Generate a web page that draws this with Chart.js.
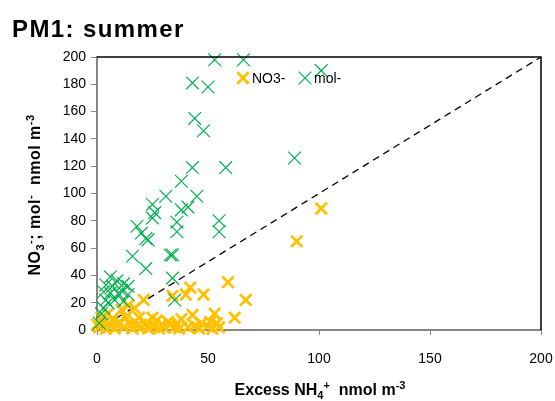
<!DOCTYPE html>
<html>
<head>
<meta charset="utf-8">
<script src="https://cdn.jsdelivr.net/npm/chart.js@4.4.1/dist/chart.umd.min.js"></script>
<style>
  html, body { margin: 0; padding: 0; background: #fff; }
  #wrap { position: relative; width: 555px; height: 401px; overflow: hidden; font-family: 'Liberation Sans', Arial, sans-serif; }
  #c { position: absolute; left: 0; top: 0; }
  .ttl { position: absolute; left: 12px; top: 15px; font-size: 24px; letter-spacing: 1.4px; font-weight: bold; color: #000; white-space: nowrap; }
  .xt { position: absolute; left: 0; width: 640px; top: 381px; text-align: center; font-size: 16px; font-weight: bold; color: #000; white-space: nowrap; }
  .yt { position: absolute; left: 35px; top: 195px; width: 260px; margin-left: -130px; margin-top: -11px; text-align: center;
        transform: rotate(-90deg); font-size: 16px; letter-spacing: 0.5px; font-weight: bold; color: #000; white-space: nowrap; line-height: 22px; }
  sub, sup { font-size: 11px; line-height: 0; }
</style>
</head>
<body>
<div id="wrap">
  <canvas id="c" width="555" height="401"></canvas>
  <div class="ttl">PM1: summer</div>
  <div class="yt">NO<sub>3</sub><sup>-</sup>; mol<sup>-</sup>&nbsp; nmol m<sup>-3</sup></div>
  <div class="xt">Excess NH<sub>4</sub><sup>+</sup>&nbsp; nmol m<sup>-3</sup></div>
</div>
<script>
(function () {
  'use strict';

  // NO3- : [excess NH4+, NO3-]
  const no3 = [
    [101, 89], [90, 65], [59, 35], [67, 22], [62, 9], [42, 31], [48, 26], [40, 26], [34, 25],
    [43, 11], [53, 12], [51, 6], [55, 2], [47, 5], [35, 2], [32, 6], [25, 9], [21, 22], [14, 18], [11, 15],
    [1, 2], [3, 5], [4, 1], [6, 3], [7, 8], [8, 1], [9, 4], [10, 6], [12, 2], [13, 9], [15, 4], [16, 1],
    [17, 6], [18, 3], [19, 9], [20, 2], [22, 5], [23, 1], [24, 4], [26, 3], [27, 7], [28, 1], [29, 4],
    [30, 2], [33, 4], [36, 5], [37, 1], [38, 8], [41, 2], [44, 3], [46, 1], [50, 3], [52, 1], [54, 5],
    [2, 9], [5, 12], [0, 4], [17, 16]
  ];
  // mol- : [excess NH4+, mol-]
  const mol = [
    [66, 198], [53, 198], [101, 190], [43, 181], [50, 178], [44, 155], [48, 146], [89, 126], [58, 119],
    [43, 119], [38, 109], [31, 98], [45, 98], [41, 90], [38, 88], [36, 79], [36, 72], [55, 80], [55, 72],
    [33, 55], [34, 55], [25, 92], [26, 86], [25, 82], [18, 76], [20, 71], [22, 67], [23, 66], [16, 54],
    [22, 45], [34, 38], [35, 22],
    [6, 39], [9, 36], [12, 34], [4, 33], [7, 32], [11, 29], [14, 32], [3, 28], [6, 27], [10, 26],
    [4, 22], [5, 20], [3, 16], [12, 21], [1, 5], [2, 12], [8, 22], [14, 26]
  ];
  const oneToOne = [[0, 0], [200, 200]];

  const xTicks = [0, 50, 100, 150, 200];
  const yTicks = [0, 20, 40, 60, 80, 100, 120, 140, 160, 180, 200];

  const ORANGE = '#FFC000';
  const GREEN = '#00B050';
  const AXIS = '#868686';
  const FONT = "'Liberation Sans', Arial, sans-serif";

  const toXY = arr => arr.map(p => ({ x: p[0], y: p[1] }));

  const frame = {
    id: 'frame',
    afterDatasetsDraw(chart) {
      const { ctx, chartArea: a } = chart;
      ctx.save();
      ctx.strokeStyle = '#000';
      ctx.lineWidth = 1.5;
      ctx.beginPath();
      ctx.moveTo(a.left, a.top);
      ctx.lineTo(a.right, a.top);
      ctx.lineTo(a.right, a.bottom);
      ctx.stroke();
      ctx.restore();
    },
    afterDraw(chart) {
      // legend inside the plot, top
      const { ctx } = chart;
      const items = [
        { ds: chart.data.datasets[0], x: 243, y: 78 },
        { ds: chart.data.datasets[1], x: 305, y: 78 },
      ];
      ctx.save();
      items.forEach(it => {
        ctx.strokeStyle = it.ds.borderColor;
        ctx.lineWidth = it.ds.borderWidth;
        Chart.helpers.drawPoint(ctx, { pointStyle: 'crossRot', radius: it.ds.pointRadius, rotation: 0, borderWidth: it.ds.borderWidth }, it.x, it.y);
        ctx.fillStyle = '#000';
        ctx.font = '14px ' + FONT;
        ctx.textBaseline = 'middle';
        ctx.fillText(it.ds.label, it.x + 9, it.y + 1);
      });
      ctx.restore();
    }
  };

  new Chart(document.getElementById('c'), {
    type: 'scatter',
    data: {
      datasets: [
        { label: 'NO3-', data: toXY(no3), pointStyle: 'crossRot', pointRadius: 8, pointHoverRadius: 8,
          borderColor: ORANGE, backgroundColor: ORANGE, borderWidth: 2.8, order: 2, clip: false },
        { label: 'mol-', data: toXY(mol), pointStyle: 'crossRot', pointRadius: 9, pointHoverRadius: 9,
          borderColor: GREEN, backgroundColor: GREEN, borderWidth: 1.2, order: 1, clip: false },
        { type: 'line', label: '1:1', data: toXY(oneToOne), borderColor: '#000', borderWidth: 1.3,
          borderDash: [7, 5], pointRadius: 0, fill: false, order: 3 }
      ]
    },
    options: {
      responsive: false,
      animation: false,
      layout: { padding: { left: 0, top: 57, right: 14, bottom: 0 } },
      plugins: { legend: { display: false }, tooltip: { enabled: false } },
      scales: {
        x: {
          type: 'linear', min: 0, max: 200,
          afterBuildTicks: s => { s.ticks = xTicks.map(v => ({ value: v })); },
          afterFit: s => { s.height = 71; s.paddingLeft = 0; s.paddingRight = 0; },
          grid: { drawOnChartArea: false, drawTicks: true, tickLength: 5, color: AXIS },
          border: { color: AXIS, width: 2 },
          ticks: { color: '#000', font: { family: FONT, size: 14 }, padding: 16, maxRotation: 0 }
        },
        y: {
          type: 'linear', min: 0, max: 200,
          afterBuildTicks: s => { s.ticks = yTicks.map(v => ({ value: v })); },
          afterFit: s => { s.width = 97; s.paddingTop = 0; s.paddingBottom = 0; },
          grid: { drawOnChartArea: false, drawTicks: true, tickLength: 6, color: AXIS },
          border: { color: AXIS, width: 2 },
          ticks: { color: '#000', font: { family: FONT, size: 14 }, padding: 5 }
        }
      }
    },
    plugins: [frame]
  });
})();
</script>
</body>
</html>
